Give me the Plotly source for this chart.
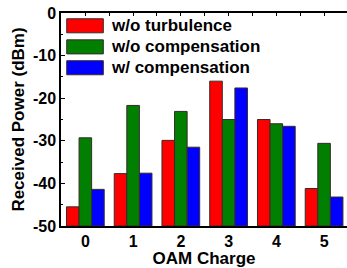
import plotly.graph_objects as go

charges = [0, 1, 2, 3, 4, 5]
tick_labels = ["0", "1", "2", "3", "4", "5"]
series_names = ["w/o turbulence", "w/o compensation", "w/ compensation"]
wo_turbulence = [-45.5, -37.7, -29.9, -16.0, -25.0, -41.2]
wo_compensation = [-29.3, -21.7, -23.1, -25.0, -26.0, -30.6]
w_compensation = [-41.4, -37.6, -31.5, -17.6, -26.6, -43.2]
y_floor = -50

colors = ["#FF0000", "#007F00", "#0000FF"]
series = [wo_turbulence, wo_compensation, w_compensation]

FONT = "Liberation Sans, Arial, sans-serif"
XR = [-0.51, 5.48]

fig = go.Figure()
for name, vals, col in zip(series_names, series, colors):
    fig.add_trace(go.Bar(
        x=charges, y=[v - y_floor for v in vals], base=y_floor, name=name,
        marker=dict(color=col, line=dict(color="#3a2a2a", width=1)),
        showlegend=False, hoverinfo="skip",
    ))

# top ticks axis
fig.add_trace(go.Scatter(x=[None], y=[None], xaxis="x2", showlegend=False))

# custom legend (large swatches)
sw_x0, sw_x1 = 0.02, 0.148
rows = [(0.973, 0.907), (0.874, 0.808), (0.776, 0.710)]
for (y1, y0), col, name in zip(rows, colors, series_names):
    fig.add_shape(type="rect", xref="paper", yref="paper",
                  x0=sw_x0, x1=sw_x1, y0=y0, y1=y1,
                  fillcolor=col, line=dict(color="#3a2a2a", width=1))
    fig.add_annotation(xref="paper", yref="paper", x=0.167, y=(y0 + y1) / 2,
                       text=name, showarrow=False,
                       xanchor="left", yanchor="middle",
                       font=dict(family=FONT, size=17, color="black", weight="bold"))

fig.update_layout(
    width=347, height=268,
    margin=dict(l=61, r=0, t=13, b=42),
    paper_bgcolor="white", plot_bgcolor="white",
    barmode="group", bargap=0.21, bargroupgap=0,
    font=dict(family=FONT, size=16, color="black", weight="bold"),
    xaxis=dict(
        range=XR, tickvals=charges, ticktext=tick_labels,
        showline=True, linecolor="black", linewidth=1.5, mirror=True,
        showgrid=False, zeroline=False, ticks="", automargin=False,
        title=dict(text="OAM Charge", font=dict(size=17, weight="bold"), standoff=0),
        tickfont=dict(size=16, weight="bold"),
    ),
    xaxis2=dict(
        overlaying="x", side="top", range=XR, dtick=0.5, tick0=0,
        ticks="inside", ticklen=3, tickcolor="black", showticklabels=False,
        showgrid=False, zeroline=False, showline=False, automargin=False,
    ),
    yaxis=dict(
        range=[-50, 0], tickvals=[-50, -40, -30, -20, -10, 0],
        ticktext=["-50", "-40", "-30", "-20", "-10", "0"],
        ticks="inside", ticklen=4, tickcolor="black", automargin=False,
        minor=dict(tickvals=[-45, -35, -25, -15, -5], ticks="inside", ticklen=2, tickcolor="black"),
        showline=True, linecolor="black", linewidth=1.5, mirror=False,
        showgrid=False, zeroline=False,
        title=dict(text="Received Power (dBm)", font=dict(size=17, weight="bold"), standoff=4),
        tickfont=dict(size=16, weight="bold"),
    ),
)

fig.write_html("out.html", config={"displayModeBar": False},
               post_script="document.body.style.margin='0';")
